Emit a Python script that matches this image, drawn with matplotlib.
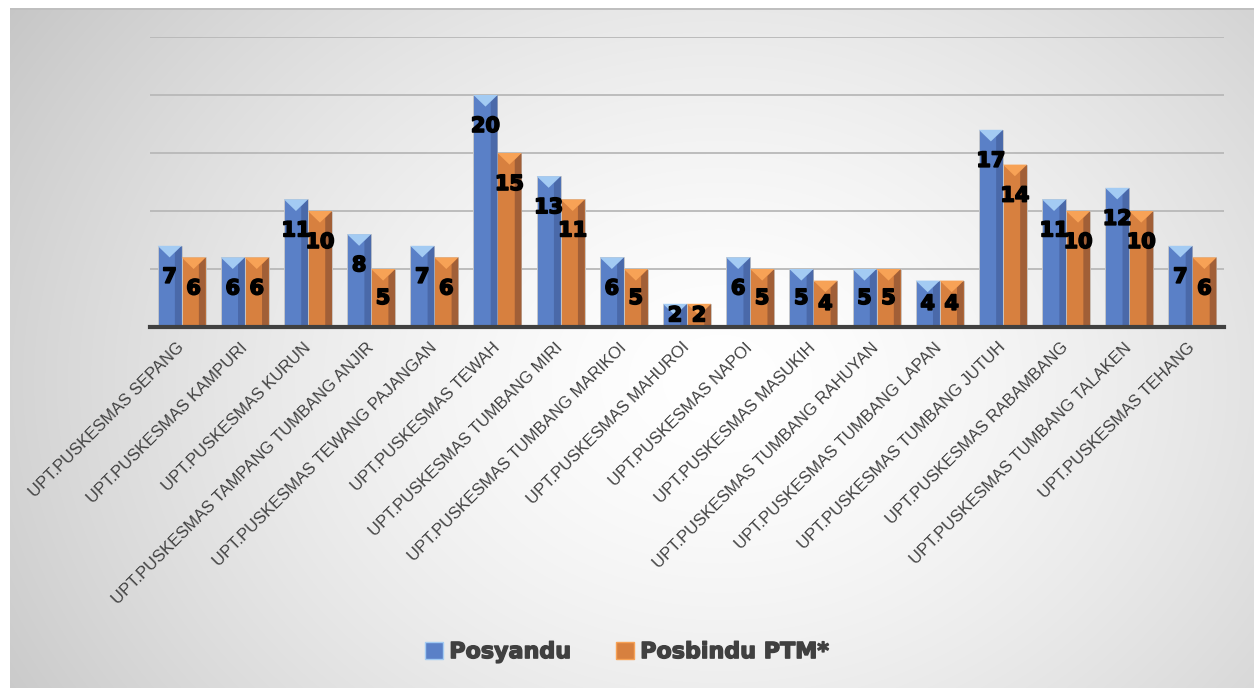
import numpy as np
import matplotlib.pyplot as plt
import matplotlib.patheffects as pe
from matplotlib.patches import Patch

categories = [
    "UPT.PUSKESMAS SEPANG", "UPT.PUSKESMAS KAMPURI", "UPT.PUSKESMAS KURUN",
    "UPT.PUSKESMAS TAMPANG TUMBANG ANJIR", "UPT.PUSKESMAS TEWANG PAJANGAN",
    "UPT.PUSKESMAS TEWAH", "UPT.PUSKESMAS TUMBANG MIRI",
    "UPT.PUSKESMAS TUMBANG MARIKOI", "UPT.PUSKESMAS MAHUROI",
    "UPT.PUSKESMAS NAPOI", "UPT.PUSKESMAS MASUKIH",
    "UPT.PUSKESMAS TUMBANG RAHUYAN", "UPT.PUSKESMAS TUMBANG LAPAN",
    "UPT.PUSKESMAS TUMBANG JUTUH", "UPT.PUSKESMAS RABAMBANG",
    "UPT.PUSKESMAS TUMBANG TALAKEN", "UPT.PUSKESMAS TEHANG",
]
posyandu = [7, 6, 11, 8, 7, 20, 13, 6, 2, 6, 5, 5, 4, 17, 11, 12, 7]
posbindu = [6, 6, 10, 5, 6, 15, 11, 5, 2, 5, 4, 5, 4, 14, 10, 10, 6]
series_names = ["Posyandu", "Posbindu PTM*"]

plt.rcParams['font.family'] = ['Liberation Sans', 'DejaVu Sans']

fig = plt.figure(figsize=(12.54, 6.88), dpi=100)

# latar belakang dengan gradien radial
bg = fig.add_axes([0, 0, 1, 1], zorder=-10)
W, H = 1254, 688
yy, xx = np.mgrid[0:H, 0:W]
r = np.sqrt(((xx - 720) / 820.0) ** 2 + ((yy - 380) / 650.0) ** 2)
shade = 1 - 0.21 * np.clip(r, 0, 1.3) ** 1.5
img = np.dstack([shade, shade, shade])
img[:, :10] = 1.0
img[:8, :] = 1.0
img[8:10, 10:] = 0.75
bg.imshow(img, aspect='auto', extent=[0, W, H, 0])
bg.axis('off')

ax = fig.add_axes([150 / W, 1 - 327 / H, 1074 / W, 290 / H])
ax.patch.set_alpha(0)

x = np.arange(len(categories))
w = 0.38
styles = [
    dict(main="#5A80C7", dark="#4A69A9", light="#A3CBF3"),
    dict(main="#D7803F", dark="#A15F37", light="#F7A256"),
]
thick = [pe.withStroke(linewidth=1.2, foreground='black')]

for vals, off, st in zip([posyandu, posbindu], [-w / 2, w / 2], styles):
    bars = ax.bar(x + off, vals, w, color=st["main"], zorder=3,
                  edgecolor="#C8C8C8", linewidth=0.6)
    for b, v in zip(bars, vals):
        x0, bw, h = b.get_x(), b.get_width(), b.get_height()
        x1, xc = x0 + bw, x0 + bw / 2
        d = min(1.0, h / 2)
        # sisi kanan lebih gelap
        ax.fill([x0 + 0.72 * bw, x1, x1, x0 + 0.72 * bw],
                [0, 0, h, h - d * 0.6], color=st["dark"], zorder=4, lw=0)
        # tutup bevel atas
        ax.fill([x0, x1, xc], [h, h, h - d], color=st["light"], zorder=5, lw=0)
        # label nilai
        off_px = min(31, (h * 11.6) / 2)
        ax.annotate(str(v), (xc, h), xytext=(0, -off_px),
                    textcoords='offset pixels', ha='center', va='center',
                    fontsize=15, fontweight='bold', family='DejaVu Sans',
                    color='black', zorder=6, path_effects=thick)

ax.set_xlim(-0.5, len(categories) - 0.5)
ax.set_ylim(0, 25)
ax.set_yticks([5, 10, 15, 20, 25])
ax.yaxis.grid(True, color="#B8B8B8", linewidth=1.3, zorder=0)
ax.tick_params(axis='y', left=False, labelleft=False)
ax.tick_params(axis='x', length=0, pad=13)
for s in ['top', 'right', 'left']:
    ax.spines[s].set_visible(False)
ax.spines['bottom'].set_color("#404040")
ax.spines['bottom'].set_linewidth(3)
ax.spines['bottom'].set_zorder(7)

ax.set_xticks(x)
ax.set_xticklabels(categories, rotation=45, ha='right', va='center',
                   rotation_mode='anchor', fontsize=12, color="#404040")

handles = [Patch(facecolor=styles[0]["main"], edgecolor=styles[0]["light"]),
           Patch(facecolor=styles[1]["main"], edgecolor=styles[1]["light"])]
leg = fig.legend(handles, series_names, loc='center',
                 bbox_to_anchor=(0.5, 1 - 652 / H),
                 ncol=2, frameon=False, handlelength=0.8, handleheight=0.8,
                 handletextpad=0.3, columnspacing=2.0,
                 prop=dict(size=16, weight='bold', family='DejaVu Sans'),
                 labelcolor="#404040")
for t in leg.get_texts():
    t.set_path_effects([pe.withStroke(linewidth=1.0, foreground="#404040")])

fig.savefig("out.png", dpi=100)
